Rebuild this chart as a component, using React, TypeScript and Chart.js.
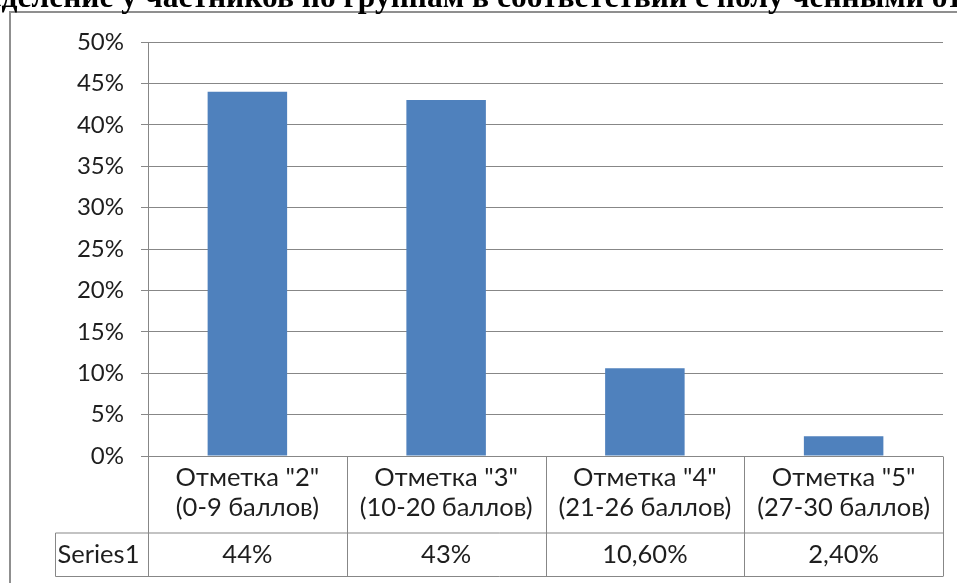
import React, { useEffect, useRef } from "react";
import { Chart, registerables } from "chart.js";

Chart.register(...registerables);

const titleText = "Распределение у частников по группам в соответствии с полу ченными отметками";
const titleHiddenPrefix = "Распре";
const categoryLines: string[][] = [
  ['Отметка "2"', "(0-9 баллов)"],
  ['Отметка "3"', "(10-20 баллов)"],
  ['Отметка "4"', "(21-26 баллов)"],
  ['Отметка "5"', "(27-30 баллов)"],
];
const seriesName = "Series1";
const seriesValues: number[] = [44, 43, 10.6, 2.4];
const valueLabels: string[] = ["44%", "43%", "10,60%", "2,40%"];
const yMax = 50;
const yStep = 5;

const FONT = 'Lato, "Open Sans", sans-serif';
const TEXT = "#1e1e1e";
const GRID = "#878787";

const decorPlugin = {
  id: "decor",
  beforeDraw(chart: any) {
    const ctx = chart.ctx;
    ctx.save();
    ctx.strokeStyle = "#8f8f8f";
    ctx.lineWidth = 2;
    ctx.strokeRect(10, 12, 1000, 700);
    ctx.fillStyle = "#000";
    ctx.font = 'bold 31.5px "Liberation Serif", "Times New Roman", serif';
    ctx.textBaseline = "alphabetic";
    ctx.textAlign = "left";
    const w = ctx.measureText(titleHiddenPrefix).width;
    ctx.fillText(titleText, -w + 2, 7);
    ctx.restore();
  },
  afterDraw(chart: any) {
    const ctx = chart.ctx;
    const x = chart.scales.x;
    const area = chart.chartArea;
    const n = categoryLines.length;
    const catW = (area.right - area.left) / n;
    const top = Math.round(area.bottom) + 0.5;
    const mid = top + 76.5;
    const bot = top + 120;
    const leftEdge = 55.5;
    ctx.save();
    ctx.strokeStyle = GRID;
    ctx.lineWidth = 1;
    ctx.beginPath();
    ctx.moveTo(area.left, top);
    ctx.lineTo(area.right, top);
    ctx.moveTo(leftEdge, mid);
    ctx.lineTo(area.right, mid);
    ctx.moveTo(leftEdge, bot);
    ctx.lineTo(area.right, bot);
    ctx.moveTo(leftEdge, mid);
    ctx.lineTo(leftEdge, bot);
    for (let i = 0; i <= n; i++) {
      const xx = Math.round(area.left + catW * i) + 0.5;
      ctx.moveTo(xx, top);
      ctx.lineTo(xx, bot);
    }
    ctx.stroke();

    ctx.fillStyle = TEXT;
    ctx.font = `25.5px ${FONT}`;
    ctx.textBaseline = "middle";
    ctx.textAlign = "center";
    for (let i = 0; i < n; i++) {
      const cx = x.getPixelForValue(i);
      ctx.fillText(categoryLines[i][0], cx, top + 21);
      ctx.fillText(categoryLines[i][1], cx, top + 51);
      ctx.fillText(valueLabels[i], cx, (mid + bot) / 2);
    }
    ctx.textAlign = "left";
    ctx.fillText(seriesName, leftEdge + 2, (mid + bot) / 2);
    ctx.restore();
  },
};

export default function App() {
  const ref = useRef<HTMLCanvasElement | null>(null);
  useEffect(() => {
    if (!ref.current) return;
    const chart = new Chart(ref.current, {
      type: "bar",
      data: {
        labels: categoryLines.map((l) => l.join(" ")),
        datasets: [
          {
            label: seriesName,
            data: seriesValues,
            backgroundColor: "#4F81BD",
            borderWidth: 0,
            barPercentage: 0.4,
            categoryPercentage: 1,
          },
        ],
      },
      options: {
        animation: false,
        responsive: true,
        maintainAspectRatio: false,
        layout: { padding: { left: 0, right: 14, top: 42, bottom: 127 } },
        plugins: { legend: { display: false }, tooltip: { enabled: false }, title: { display: false } },
        scales: {
          x: { display: false },
          y: {
            min: 0,
            max: yMax,
            ticks: {
              stepSize: yStep,
              padding: 17,
              color: TEXT,
              font: { family: FONT, size: 24 },
              callback: (v: any) => `${v}%`,
            },
            grid: { color: GRID, tickLength: 7, drawTicks: true },
            border: { display: true, color: GRID },
            afterFit: (s: any) => {
              s.width = 148;
            },
          },
        },
      },
      plugins: [decorPlugin],
    });
    return () => chart.destroy();
  }, []);
  return (
    <div style={{ position: "absolute", left: 0, top: 0, width: 957, height: 583, background: "#fff" }}>
      <canvas ref={ref} />
    </div>
  );
}
